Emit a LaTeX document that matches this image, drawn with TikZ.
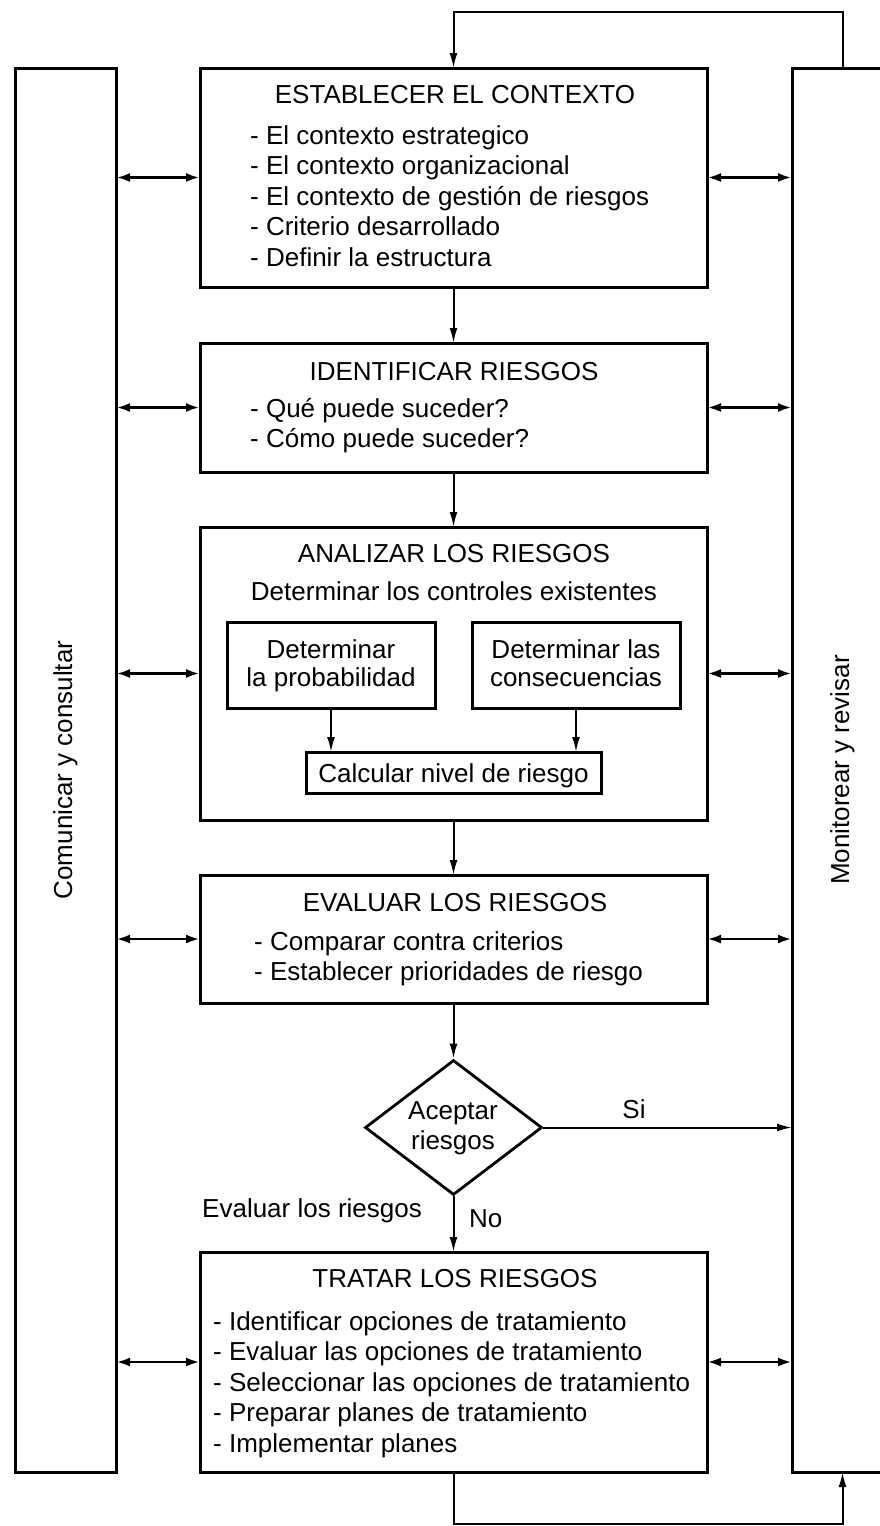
\documentclass[tikz,border=0pt]{standalone}
\usepackage{fontspec}
\setmainfont{Liberation Sans}
\usetikzlibrary{arrows.meta,shapes.geometric,calc}
\newcommand\diagfont{\fontsize{26}{30.5}\selectfont}
\tikzset{
  box/.style={draw, line width=3pt, inner sep=0pt, outer sep=0pt},
  conn/.style={line width=2pt, -{Latex[length=15pt,width=8pt]}},
  twoway/.style={line width=2.8pt, {Latex[length=14pt,width=9pt]}-{Latex[length=14pt,width=9pt]}},
  lbl/.style={inner sep=0pt, font=\diagfont},
}
\begin{document}
\begin{tikzpicture}[x=1pt,y=-1pt]
\useasboundingbox (0,0) rectangle (880,1526);

% side columns
\node[box, minimum width=101pt, minimum height=1404pt] (lbox) at (65.5,770) {};
\node[box, minimum width=101pt, minimum height=1404pt] (rbox) at (842.5,770) {};
\node[lbl, rotate=90] (lbtxt) at (65.5,770) {Comunicar y consultar};
\node[lbl, rotate=90] (rbtxt) at (842.5,770) {Monitorear y revisar};

% main process boxes
\node[box, minimum width=507pt, minimum height=219pt] (b1) at (453.5,177.5) {};
\node[box, minimum width=507pt, minimum height=129pt] (b2) at (453.5,407.5) {};
\node[box, minimum width=507pt, minimum height=293pt] (b3) at (453.5,673.5) {};
\node[box, minimum width=507pt, minimum height=128pt] (b4) at (453.5,939) {};
\node[box, minimum width=507pt, minimum height=220pt] (b5) at (453.5,1362) {};

% sub-steps of the analysis
\node[box, minimum width=208pt, minimum height=86pt] (prob) at (331,665) {};
\node[box, minimum width=208pt, minimum height=86pt] (cons) at (576,665) {};
\node[box, minimum width=295pt, minimum height=41pt] (calcn) at (453.5,772.5) {};

% decision
\node[draw, diamond, line width=2.8pt, inner sep=0pt, minimum width=177pt, minimum height=135pt] (dia) at (453.5,1127.5) {};

% texts: establish context
\node[lbl, anchor=base] (t1) at (455,103) {ESTABLECER EL CONTEXTO};
\foreach \s [count=\i] in {{- El contexto estrategico},{- El contexto organizacional},{- El contexto de gestión de riesgos},{- Criterio desarrollado},{- Definir la estructura}}
  \node[lbl, anchor=base west] (ea\i) at (250,{144+30.5*(\i-1)}) {\s};

% texts: identify
\node[lbl, anchor=base] (t2) at (454,380) {IDENTIFICAR RIESGOS};
\foreach \s [count=\i] in {{- Qué puede suceder?},{- Cómo puede suceder?}}
  \node[lbl, anchor=base west] (eb\i) at (250,{417+30.5*(\i-1)}) {\s};

% texts: analyse
\node[lbl, anchor=base] (t3) at (454,562) {ANALIZAR LOS RIESGOS};
\node[lbl, anchor=base] (t3b) at (454,600) {Determinar los controles existentes};
\node[lbl, anchor=base] (p1) at (331,658) {Determinar};
\node[lbl, anchor=base] (p2) at (331,686) {la probabilidad};
\node[lbl, anchor=base] (c1) at (576,658) {Determinar las};
\node[lbl, anchor=base] (c2) at (576,686) {consecuencias};
\node[lbl, anchor=base] (k1) at (453.5,782) {Calcular nivel de riesgo};

% texts: evaluate
\node[lbl, anchor=base] (t4) at (455,911) {EVALUAR LOS RIESGOS};
\foreach \s [count=\i] in {{- Comparar contra criterios},{- Establecer prioridades de riesgo}}
  \node[lbl, anchor=base west] (ed\i) at (254,{950+30.5*(\i-1)}) {\s};

% texts: decision
\node[lbl, anchor=base] (d1) at (453,1119) {Aceptar};
\node[lbl, anchor=base] (d2) at (453,1149) {riesgos};
\node[lbl, anchor=base] (si) at (634,1118) {Si};
\node[lbl, anchor=base west] (ev) at (202,1217) {Evaluar los riesgos};
\node[lbl, anchor=base west] (no) at (469,1227) {No};

% texts: treat
\node[lbl, anchor=base] (t5) at (455,1287) {TRATAR LOS RIESGOS};
\foreach \s [count=\i] in {{- Identificar opciones de tratamiento},{- Evaluar las opciones de tratamiento},{- Seleccionar las opciones de tratamiento},{- Preparar planes de tratamiento},{- Implementar planes}}
  \node[lbl, anchor=base west] (ee\i) at (213,{1330+30.5*(\i-1)}) {\s};

% main flow
\coordinate (topturn) at (453.5,12);
\coordinate (botturn) at (453.5,1524);
\draw[conn] (rbox.north) |- (topturn) -- (b1.north);
\draw[conn] (b1.south) -- (b2.north);
\draw[conn] (b2.south) -- (b3.north);
\draw[conn] (b3.south) -- (b4.north);
\draw[conn] (b4.south) -- (dia.north);
\draw[conn] (dia.south) -- (b5.north);
\draw[conn] (dia.east) -- (dia.east -| rbox.west);
\draw[conn] (b5.south) -- (botturn) -| (rbox.south);
\draw[conn] (prob.south) -- (prob.south |- calcn.north);
\draw[conn] (cons.south) -- (cons.south |- calcn.north);

% links to the side columns
\foreach \b in {b1,b2,b3,b4,b5} {
  \draw[twoway] (lbox.east |- \b.west) -- (\b.west);
  \draw[twoway] (\b.east) -- (\b.east -| rbox.west);
}
\end{tikzpicture}
\end{document}
